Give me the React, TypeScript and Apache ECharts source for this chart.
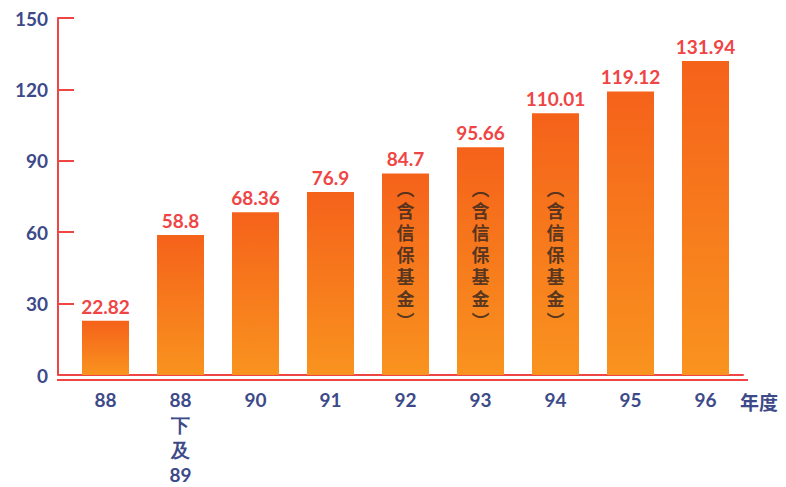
import React, { useEffect, useRef } from "react";
import * as echarts from "echarts";

const categories = ["88", "88\n下\n及\n89", "90", "91", "92", "93", "94", "95", "96"];
const values = [22.82, 58.8, 68.36, 76.9, 84.7, 95.66, 110.01, 119.12, 131.94];
const yTickMin = 0;
const yTickMax = 150;
const yTickStep = 30;
const noteCategories = ["92", "93", "94"];
const noteLevel = 51;
const noteText = "︵含信保基金︶";
const xUnit = "年度";

const BLUE = "#3d4a8a";
const RED = "#ef4545";
const NUM_FONT = "Lato, 'Noto Sans', sans-serif";

export default function App() {
  const ref = useRef<HTMLDivElement>(null);
  useEffect(() => {
    if (!ref.current) return;
    const chart = echarts.init(ref.current, undefined, { renderer: "svg" });
    chart.setOption({
      animation: false,
      backgroundColor: "#ffffff",
      grid: { left: 68, right: 43, top: 18, bottom: 107, containLabel: false },
      xAxis: {
        type: "category",
        data: categories,
        boundaryGap: true,
        axisLine: { show: true, lineStyle: { color: RED, width: 2 } },
        axisTick: { show: false },
        axisLabel: {
          color: BLUE,
          fontFamily: NUM_FONT,
          fontWeight: "bold",
          fontSize: 19,
          lineHeight: 25,
          margin: 12,
          interval: 0,
        },
      },
      yAxis: {
        type: "value",
        min: yTickMin,
        max: yTickMax,
        interval: yTickStep,
        offset: 10,
        splitLine: { show: false },
        axisLine: { show: true, lineStyle: { color: RED, width: 2 } },
        axisTick: { show: true, inside: true, length: 16, lineStyle: { color: RED, width: 2 } },
        axisLabel: {
          color: BLUE,
          fontFamily: NUM_FONT,
          fontWeight: "bold",
          fontSize: 19,
          margin: 10,
          padding: [10, 0, 0, 0],
        },
      },
      series: [
        {
          type: "bar",
          data: values,
          barWidth: 47,
          itemStyle: {
            color: new echarts.graphic.LinearGradient(0, 0, 0, 1, [
              { offset: 0, color: "#f5621a" },
              { offset: 1, color: "#f9931f" },
            ]),
          },
          label: {
            show: true,
            position: "top",
            distance: 5,
            color: RED,
            fontFamily: NUM_FONT,
            fontSize: 19,
            fontWeight: "bold",
          },
        },
        {
          type: "scatter",
          symbolSize: 0,
          data: noteCategories.map((c) => [c, noteLevel]),
          label: {
            show: true,
            position: "inside",
            formatter: () => noteText.split("").join("\n"),
            color: "#2e2420",
            fontFamily: "'Noto Sans CJK TC', sans-serif",
            fontWeight: "bold",
            fontSize: 18,
            lineHeight: 22,
          },
          z: 5,
        },
      ],
      graphic: [
        {
          type: "line",
          shape: { x1: 57, y1: 380, x2: 748, y2: 380 },
          style: { stroke: RED, lineWidth: 2 },
          z: -1,
        },
        {
          type: "text",
          x: 740,
          y: 401,
          style: {
            text: xUnit,
            fill: BLUE,
            font: "bold 19px 'Noto Sans CJK TC', sans-serif",
            verticalAlign: "middle",
          },
        },
      ],
    });
    return () => chart.dispose();
  }, []);
  return <div ref={ref} style={{ position: "fixed", left: 0, top: 0, width: 786, height: 487 }} />;
}
